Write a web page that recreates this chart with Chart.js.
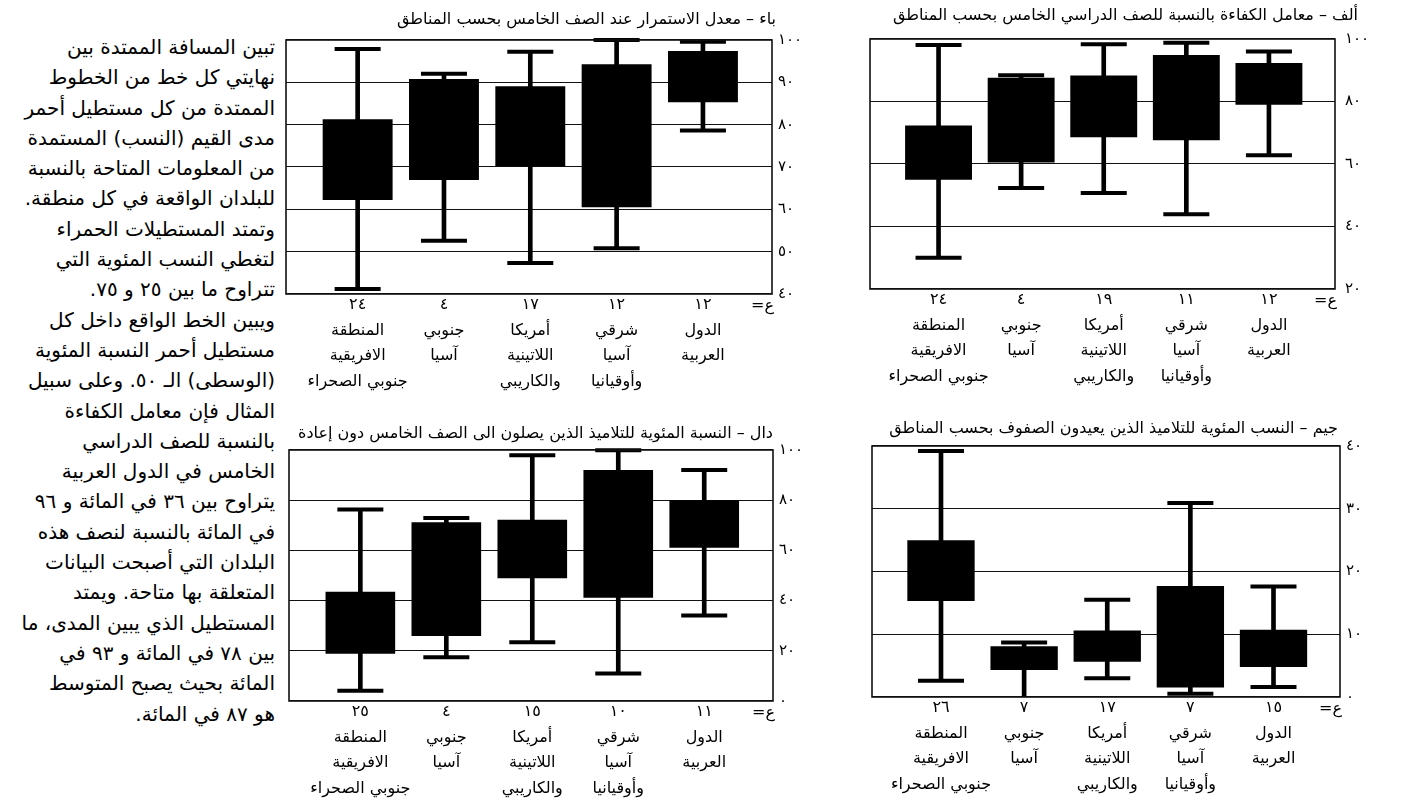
<!DOCTYPE html>
<html lang="ar">
<head>
<meta charset="utf-8">
<script src="https://cdn.jsdelivr.net/npm/chart.js@4.4.1/dist/chart.umd.min.js"></script>
<style>
  html,body{margin:0;padding:0;background:#fff;}
  body{width:1417px;height:798px;position:relative;overflow:hidden;font-family:'DejaVu Sans',sans-serif;color:#000;}
  .panel{position:absolute;}
  .ttl{position:absolute;white-space:nowrap;direction:rtl;font-size:16px;line-height:20px;}
  .note{position:absolute;left:0;width:275px;direction:rtl;text-align:right;white-space:nowrap;font-size:20px;line-height:30.3px;}
</style>
</head>
<body>

<div class="note" id="note"></div>

<script>
// ---------- Datos ----------
const regionLabels = [
  ['المنطقة','الافريقية','جنوبي الصحراء'],
  ['جنوبي','آسيا'],
  ['أمريكا','اللاتينية','والكاريبي'],
  ['شرقي','آسيا','وأوقيانيا'],
  ['الدول','العربية']
];
const xPositions = [0, 1, 2, 3, 4];

// ألف – معامل الكفاءة
const alefTitle  = 'ألف – معامل الكفاءة بالنسبة للصف الدراسي الخامس بحسب المناطق';
const alefCounts = [24, 4, 19, 11, 12];
const alefMin    = [30, 52.3, 50.7, 43.9, 62.8];
const alefQ1     = [55, 60.5, 68.6, 67.6, 79];
const alefQ3     = [72.3, 87.6, 88.3, 94.9, 92.3];
const alefMax    = [98.1, 88.4, 98.3, 98.8, 96];
const alefTicks  = [20, 40, 60, 80, 100];

// باء – معدل الاستمرار
const baaTitle  = 'باء – معدل الاستمرار عند الصف الخامس بحسب المناطق';
const baaCounts = [24, 4, 17, 12, 12];
const baaMin    = [41.2, 52.6, 47.3, 50.8, 78.6];
const baaQ1     = [62.2, 66.9, 70.2, 60.5, 85.3];
const baaQ3     = [81.3, 90.8, 89.1, 94.3, 97.4];
const baaMax    = [97.9, 92, 97.2, 100, 99.6];
const baaTicks  = [40, 50, 60, 70, 80, 90, 100];

// جيم – نسب الإعادة
const jeemTitle  = 'جيم – النسب المئوية للتلاميذ الذين يعيدون الصفوف بحسب المناطق';
const jeemCounts = [26, 7, 17, 7, 15];
const jeemMin    = [2.6, -1, 3, 0.5, 1.6];
const jeemQ1     = [15.3, 4.3, 5.6, 1.5, 4.8];
const jeemQ3     = [25, 8.1, 10.6, 17.7, 10.7];
const jeemMax    = [39.2, 8.7, 15.5, 30.9, 17.6];
const jeemTicks  = [0, 10, 20, 30, 40];

// دال – الوصول الى الصف الخامس دون إعادة
const daalTitle  = 'دال – النسبة المئوية للتلاميذ الذين يصلون الى الصف الخامس دون إعادة';
const daalCounts = [25, 4, 15, 10, 11];
const daalMin    = [4.1, 17.4, 23.4, 11, 34.1];
const daalQ1     = [18.8, 25.9, 48.9, 41.1, 61.1];
const daalQ3     = [43.5, 71.2, 72.2, 92, 80];
const daalMax    = [76.3, 72.9, 97.9, 99.9, 92];
const daalTicks  = [0, 20, 40, 60, 80, 100];

const noteLines = [
  'تبين المسافة الممتدة بين',
  'نهايتي كل خط من الخطوط',
  'الممتدة من كل مستطيل أحمر',
  'مدى القيم (النسب) المستمدة',
  'من المعلومات المتاحة بالنسبة',
  'للبلدان الواقعة في كل  منطقة.',
  'وتمتد المستطيلات الحمراء',
  'لتغطي النسب المئوية التي',
  'تتراوح ما بين ٢٥ و ٧٥.',
  'ويبين الخط الواقع داخل كل',
  'مستطيل أحمر النسبة المئوية',
  '(الوسطى) الـ ٥٠. وعلى سبيل',
  'المثال فإن معامل الكفاءة',
  'بالنسبة للصف الدراسي',
  'الخامس في الدول العربية',
  'يتراوح بين ٣٦ في المائة و ٩٦',
  'في المائة بالنسبة لنصف هذه',
  'البلدان التي أصبحت البيانات',
  'المتعلقة بها متاحة. ويمتد',
  'المستطيل الذي يبين المدى، ما',
  'بين ٧٨ في المائة و ٩٣ في',
  'المائة بحيث يصبح المتوسط',
  'هو ٨٧ في المائة.'
];

// ---------- Utilidades ----------
const arabicDigits = n => String(n).replace(/\d/g, d => '٠١٢٣٤٥٦٧٨٩'[d]);

Chart.defaults.font.family = "'DejaVu Sans', sans-serif";
Chart.defaults.color = '#000';

// marco negro alrededor del área y etiqueta «ع=»
const frame = {
  id: 'frame',
  afterDraw(chart){
    const {ctx, chartArea:a} = chart;
    ctx.save();
    ctx.strokeStyle = '#111';
    ctx.lineWidth = 1.6;
    ctx.strokeRect(a.left, a.top, a.right - a.left, a.bottom - a.top);
    ctx.fillStyle = '#000';
    ctx.font = "16px 'DejaVu Sans'";
    ctx.direction = 'rtl';
    ctx.textAlign = 'right';
    ctx.textBaseline = 'middle';
    ctx.fillText('ع=', a.right + 2, a.bottom + 12);
    ctx.restore();
  }
};

// ---------- Panel ----------
function boxPanel(p){
  const [l, t, r, b] = p.box;
  const yw = 40, xh = 108;
  const cLeft = l - 2, cTop = t - 16;
  const w = r + yw - cLeft, h = b - cTop + xh;
  const wrap = document.createElement('div');
  wrap.className = 'panel';
  wrap.style.left = cLeft + 'px'; wrap.style.top = cTop + 'px';
  const cv = document.createElement('canvas');
  cv.width = w; cv.height = h;
  wrap.appendChild(cv);
  document.body.appendChild(wrap);

  const tt = document.createElement('div');
  tt.className = 'ttl';
  tt.textContent = p.title;
  tt.style.right = (1417 - p.titleRight) + 'px';
  tt.style.top = (p.titleY - 10) + 'px';
  document.body.appendChild(tt);

  const caps = [];
  p.lo.forEach((v,i)=>{ caps.push({x:xPositions[i], y:v}); caps.push({x:xPositions[i], y:p.hi[i]}); });

  new Chart(cv, {
    type:'bar',
    data:{datasets:[
      {type:'scatter', data:caps, pointStyle:'line', pointRadius:23, pointHoverRadius:23,
       pointBorderWidth:4, borderColor:'#000', backgroundColor:'#000', clip:4},
      {data:p.q1.map((v,i)=>({x:xPositions[i], y:[v, p.q3[i]]})), backgroundColor:'#000',
       grouped:false, categoryPercentage:1, barPercentage:0.81},
      {data:p.lo.map((v,i)=>({x:xPositions[i], y:[v, p.hi[i]]})), backgroundColor:'#000',
       grouped:false, barThickness:4}
    ]},
    options:{
      responsive:false, animation:false, devicePixelRatio:1,
      layout:{autoPadding:false, padding:{top:16, left:2, right:0, bottom:0}},
      plugins:{legend:{display:false}, tooltip:{enabled:false}},
      scales:{
        x:{type:'linear', min:-0.83, max:4.8, offset:false,
           grid:{display:false, drawTicks:false, offset:false}, border:{display:false},
           afterBuildTicks:s=>{ s.ticks = xPositions.map(v=>({value:v})); },
           afterFit:s=>{ s.height = xh; },
           ticks:{autoSkip:false, maxRotation:0, padding:-2, color:'#000',
                  font:{size:16, lineHeight:1.6},
                  callback:v=>[arabicDigits(p.counts[v]), ...regionLabels[v]]}},
        y:{position:'right', min:p.ticks[0], max:p.ticks[p.ticks.length-1],
           afterBuildTicks:s=>{ s.ticks = p.ticks.map(v=>({value:v})); },
           afterFit:s=>{ s.width = yw; },
           grid:{color:'#111', lineWidth:1.1, drawTicks:false}, border:{display:false},
           ticks:{padding:p.yPad, color:'#000', font:{size:15}, callback:v=>arabicDigits(v)}}
      }
    },
    plugins:[frame]
  });
}

document.getElementById('note').style.top = (47 - 15) + 'px';
document.getElementById('note').innerHTML = noteLines.join('<br>');

boxPanel({title:alefTitle, titleRight:1358, titleY:15, box:[870, 36, 1335, 289], yPad:10,
  counts:alefCounts, lo:alefMin, q1:alefQ1, q3:alefQ3, hi:alefMax, ticks:alefTicks});
boxPanel({title:baaTitle, titleRight:776, titleY:19, box:[286, 40, 772, 294], yPad:6,
  counts:baaCounts, lo:baaMin, q1:baaQ1, q3:baaQ3, hi:baaMax, ticks:baaTicks});
boxPanel({title:jeemTitle, titleRight:1338, titleY:428, box:[872, 446, 1340, 697], yPad:6,
  counts:jeemCounts, lo:jeemMin, q1:jeemQ1, q3:jeemQ3, hi:jeemMax, ticks:jeemTicks});
boxPanel({title:daalTitle, titleRight:773, titleY:433, box:[289, 450, 773, 701], yPad:6,
  counts:daalCounts, lo:daalMin, q1:daalQ1, q3:daalQ3, hi:daalMax, ticks:daalTicks});
</script>
</body>
</html>
